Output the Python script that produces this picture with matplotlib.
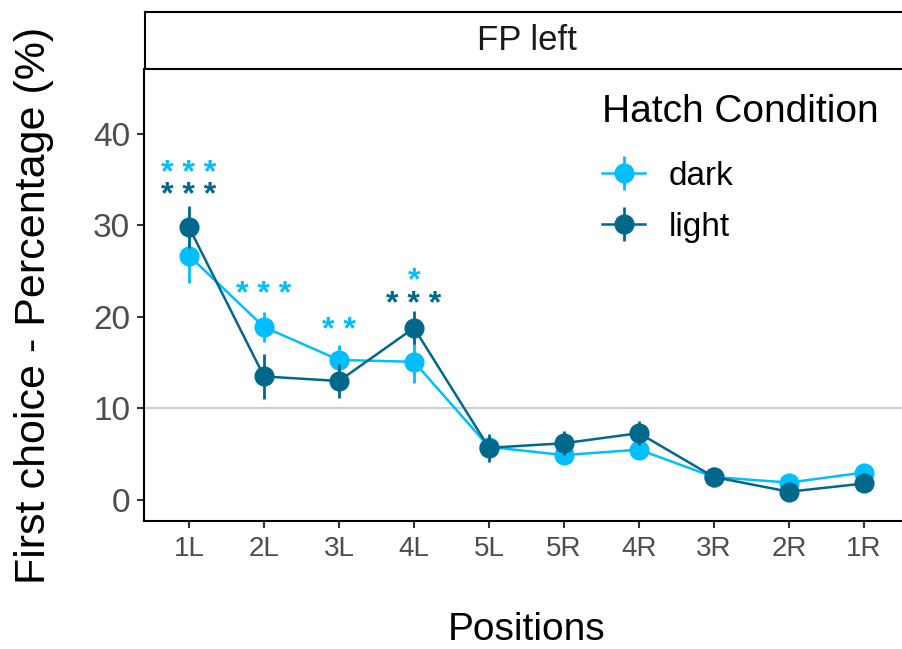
import matplotlib
matplotlib.use("Agg")
import matplotlib.pyplot as plt

positions = ["1L", "2L", "3L", "4L", "5L", "5R", "4R", "3R", "2R", "1R"]

dark_mean = [26.7, 18.9, 15.3, 15.1, 5.8, 4.9, 5.5, 2.5, 1.9, 3.0]
dark_se = [3.0, 1.6, 1.6, 2.3, 1.1, 1.0, 1.0, 0.5, 0.4, 0.4]
light_mean = [29.8, 13.5, 13.0, 18.8, 5.7, 6.2, 7.3, 2.5, 0.9, 1.8]
light_se = [2.3, 2.5, 1.9, 1.8, 1.5, 1.3, 1.3, 0.5, 0.4, 0.4]

# significance stars (position, label, height of glyph centre)
dark_sig_pos = ["1L", "2L", "3L", "4L"]
dark_sig_txt = ["* * *", "* * *", "* *", "*"]
dark_sig_y = [36.5, 23.3, 19.3, 24.8]
light_sig_pos = ["1L", "4L"]
light_sig_txt = ["* * *", "* * *"]
light_sig_y = [34.1, 22.2]

col_dark = "#00BFFF"
col_light = "#00688B"

plt.rcParams["font.family"] = ["Liberation Sans", "DejaVu Sans"]

W, H = 902, 649
fig = plt.figure(figsize=(W / 100, H / 100), dpi=100)
ax = fig.add_axes([144 / W, 1 - 521 / H, (909 - 144) / W, (521 - 69) / H])

x = list(range(1, len(positions) + 1))

ax.axhline(10, color="#BEBEBE", lw=1.1, zorder=1)

h1 = ax.errorbar(x, dark_mean, yerr=dark_se, color=col_dark, marker="o",
                 markersize=13.5, lw=1.8, elinewidth=2.0, capsize=0, zorder=3,
                 label="dark")
h2 = ax.errorbar(x, light_mean, yerr=light_se, color=col_light, marker="o",
                 markersize=13.5, lw=1.8, elinewidth=2.0, capsize=0, zorder=4,
                 label="light")

# stars: y values are glyph centres, shift to baseline
star_fs = 23
star_shift = 0.5 * star_fs / 72 * 100 / 9.15
for p, t, yy in zip(dark_sig_pos, dark_sig_txt, dark_sig_y):
    ax.text(positions.index(p) + 1, yy - star_shift, t, color=col_dark,
            fontsize=star_fs, ha="center", va="baseline", fontweight="bold")
for p, t, yy in zip(light_sig_pos, light_sig_txt, light_sig_y):
    ax.text(positions.index(p) + 1, yy - star_shift, t, color=col_light,
            fontsize=star_fs, ha="center", va="baseline", fontweight="bold")

ax.set_xlim(0.4, 10.6)
ax.set_ylim(-2.3, 47.1)
ax.set_xticks(x)
ax.set_xticklabels(positions)
ax.set_yticks([0, 10, 20, 30, 40])
ax.tick_params(axis="y", labelsize=24, labelcolor="#4D4D4D", color="#333333",
               length=5, width=1.5, pad=5)
ax.tick_params(axis="x", labelsize=20, labelcolor="#4D4D4D", color="#333333",
               length=5, width=1.5, pad=6)
for s in ["top", "right"]:
    ax.spines[s].set_visible(False)
for s in ["left", "bottom"]:
    ax.spines[s].set_linewidth(1.5)
    ax.spines[s].set_color("black")

ax.set_xlabel("Positions", fontsize=28, labelpad=36)
ax.set_ylabel("First choice - Percentage (%)", fontsize=31, labelpad=28)
ax.yaxis.label.set_y(0.476)

# facet strip
sax = fig.add_axes([145 / W, 1 - 69 / H, (909 - 145) / W, (69 - 12) / H])
sax.set_xticks([])
sax.set_yticks([])
for s in sax.spines.values():
    s.set_linewidth(1.5)
    s.set_color("black")
sax.text(0.5, 0.5, "FP left", fontsize=25, ha="center", va="center",
         transform=sax.transAxes, color="#1A1A1A")

leg = fig.legend(handles=[h1, h2], labels=["dark", "light"],
                 title="Hatch Condition", loc="upper left",
                 bbox_to_anchor=(572 / W, 1 - 64 / H), frameon=False,
                 fontsize=24, title_fontsize=28, alignment="left",
                 handlelength=1.3, handletextpad=0.7, labelspacing=0.6)
leg._legend_box.sep = 22  # gap between title and entries

fig.savefig("out.png", dpi=100)
